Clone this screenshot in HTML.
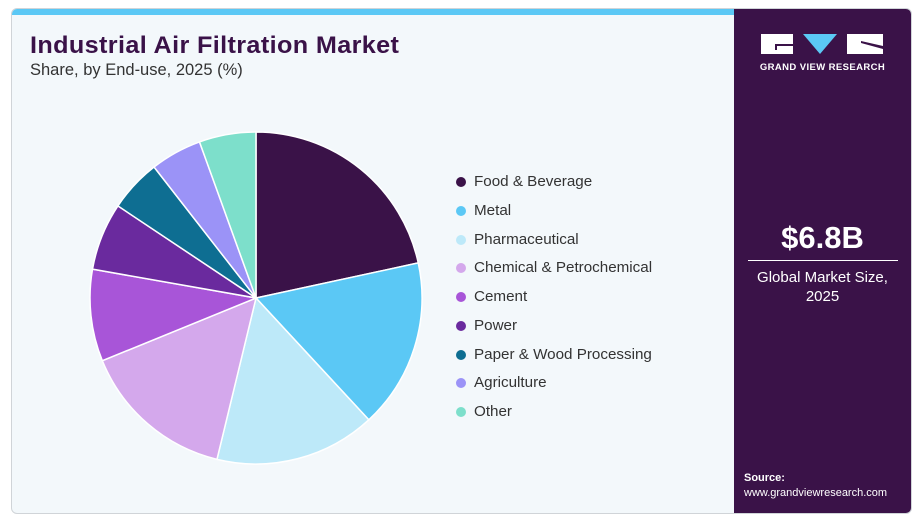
<!DOCTYPE html>
<html><head><style>
body{margin:0;width:912px;height:516px;background:#fff;font-family:"Liberation Sans",sans-serif;position:relative;overflow:hidden}
.card{position:absolute;left:11px;top:8px;width:899px;height:504px;border:1px solid #d0d4d8;border-radius:6px;background:#f3f8fb;overflow:hidden}
.bar{position:absolute;left:0;top:0;width:722px;height:6px;background:#5bc8f5}
.panel{position:absolute;left:722px;top:0;width:177px;height:504px;background:#3a1248}
h1{position:absolute;left:18px;top:23px;margin:0;font-size:24px;font-weight:900;color:#3a1248;letter-spacing:0.35px;transform:scaleX(1.05);transform-origin:left}
.sub{position:absolute;left:18px;top:52px;font-size:16.5px;color:#333}
.leg{position:absolute;left:444px;font-size:15.2px;color:#333}
.leg i{display:inline-block;width:10px;height:10px;border-radius:50%;margin-right:8px;vertical-align:-1px}
</style></head><body>
<div class="card">
<div class="bar"></div>
<h1>Industrial Air Filtration Market</h1>
<div class="sub">Share, by End-use, 2025 (%)</div>
<svg style="position:absolute;left:0;top:0" width="722" height="504">
<g transform="translate(244,289)" stroke="#fff" stroke-width="1.5" id="pie"></g>
</svg>
<div class="leg" style="top:164px"><i style="background:#3a1248"></i>Food &amp; Beverage</div>
<div class="leg" style="top:193px"><i style="background:#5bc8f5"></i>Metal</div>
<div class="leg" style="top:222px"><i style="background:#bde9f9"></i>Pharmaceutical</div>
<div class="leg" style="top:250px"><i style="background:#d4a8ec"></i>Chemical &amp; Petrochemical</div>
<div class="leg" style="top:279px"><i style="background:#a855d8"></i>Cement</div>
<div class="leg" style="top:308px"><i style="background:#6a2a9e"></i>Power</div>
<div class="leg" style="top:337px"><i style="background:#0e6e92"></i>Paper &amp; Wood Processing</div>
<div class="leg" style="top:365px"><i style="background:#9b93f7"></i>Agriculture</div>
<div class="leg" style="top:394px"><i style="background:#7ddfcb"></i>Other</div>
<div class="panel">
<svg style="position:absolute;left:27px;top:24px" width="124" height="24">
<rect x="0" y="1" width="32" height="20" fill="#fff"/><rect x="14" y="11" width="18" height="2" fill="#3a1248"/><rect x="14" y="11" width="2" height="6" fill="#3a1248"/>
<polygon points="42,1 76,1 59,21" fill="#5bc8f5"/>
<rect x="86" y="1" width="36" height="20" fill="#fff"/><polygon points="100,8 122,13 122,16 100,10" fill="#3a1248"/>
</svg>
<div style="position:absolute;left:0;width:177px;top:53px;text-align:center;color:#fff;font-size:9.5px;font-weight:bold;letter-spacing:0.4px">GRAND VIEW RESEARCH</div>
<div style="position:absolute;left:0;width:177px;top:211px;text-align:center;color:#fff;font-size:31px;font-weight:bold">$6.8B</div>
<div style="position:absolute;left:14px;width:150px;top:251px;height:1px;background:#fff"></div>
<div style="position:absolute;left:0;width:177px;top:259px;text-align:center;color:#fff;font-size:15px;line-height:19px">Global Market Size,<br>2025</div>
<div style="position:absolute;left:10px;top:462px;color:#fff;font-size:11px;line-height:15px"><b>Source:</b><br>www.grandviewresearch.com</div>
</div>
</div>
<script>
var ends=[0,77.8,137.2,193.6,247.8,280,303.7,322.1,340.1,360];
var cols=["#3a1248","#5bc8f5","#bde9f9","#d4a8ec","#a855d8","#6a2a9e","#0e6e92","#9b93f7","#7ddfcb"];
var r=166,g=document.getElementById('pie'),h='';
function p(a){a=a*Math.PI/180;return (r*Math.sin(a)).toFixed(2)+','+(-r*Math.cos(a)).toFixed(2);}
for(var i=0;i<9;i++){var a0=ends[i],a1=ends[i+1];h+='<path d="M0,0 L'+p(a0)+' A'+r+','+r+' 0 '+((a1-a0)>180?1:0)+' 1 '+p(a1)+' Z" fill="'+cols[i]+'"/>';}
g.innerHTML=h;
</script>
</body></html>
